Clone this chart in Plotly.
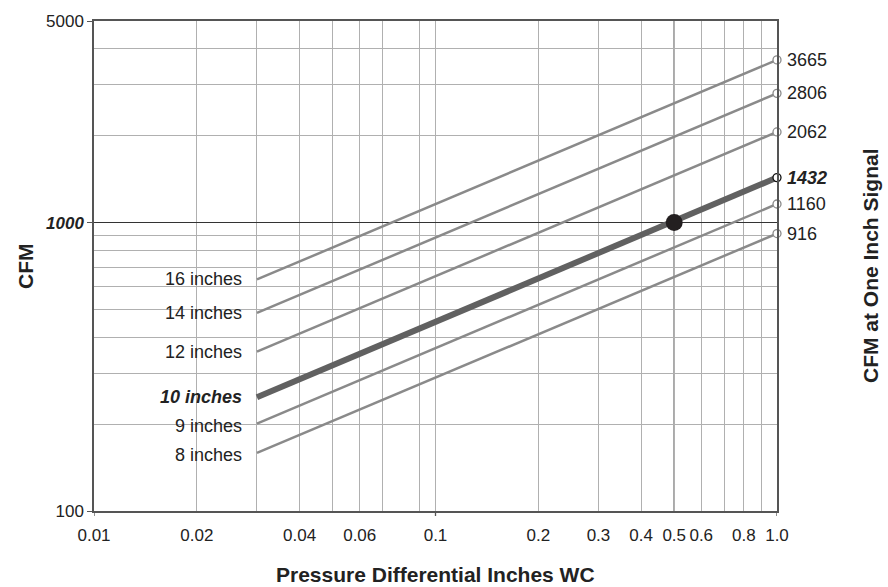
import numpy as np
import plotly.graph_objects as go

# ---- data ----
duct_sizes = ["16 inches", "14 inches", "12 inches", "10 inches", "9 inches", "8 inches"]
cfm_at_one_inch = [3665, 2806, 2062, 1432, 1160, 916]      # CFM at 1.0 in WC
cfm_at_start = [635, 486, 357, 248, 201, 159]               # CFM at 0.03 in WC
dp_start = 0.03
dp_end = 1.0
highlight = "10 inches"
ref_dp = 0.5
ref_cfm = 1000

x_tick_vals = [0.01, 0.02, 0.04, 0.06, 0.1, 0.2, 0.3, 0.4, 0.5, 0.6, 0.8, 1.0]
x_tick_text = ["0.01", "0.02", "0.04", "0.06", "0.1", "0.2", "0.3", "0.4", "0.5", "0.6", "0.8", "1.0"]
x_minor_vals = [0.03, 0.05, 0.07, 0.09, 0.7, 0.9]
x_decades = [0.01, 0.1, 1.0]
y_tick_vals = [100, 1000, 5000]
y_tick_text = ["100", "<b><i>1000</i></b>", "5000"]
y_minor_vals = [200, 300, 400, 500, 600, 700, 800, 900, 2000, 3000, 4000]

FONT = "Liberation Sans, Arial, Helvetica, sans-serif"
GRID = "#b0b0b0"
THIN = "#8a8a8a"
THICK = "#616161"
AXIS = "#555555"
LBL = 18
TICK = 17
TTL = 21

fig = go.Figure()

# lines
for name, v0, v1 in zip(duct_sizes, cfm_at_start, cfm_at_one_inch):
    hl = name == highlight
    fig.add_trace(go.Scatter(
        x=[dp_start, dp_end], y=[v0, v1], mode="lines",
        line=dict(color=THICK if hl else THIN, width=6 if hl else 2.5),
        showlegend=False, hoverinfo="skip"))

# end markers
fig.add_trace(go.Scatter(
    x=[dp_end] * len(cfm_at_one_inch), y=cfm_at_one_inch, mode="markers",
    marker=dict(symbol="circle", size=8, color="white",
                line=dict(width=1.3, color=["#111111" if n == highlight else "#8a8a8a" for n in duct_sizes])),
    cliponaxis=False, showlegend=False, hoverinfo="skip"))

# reference dot
fig.add_trace(go.Scatter(
    x=[ref_dp], y=[ref_cfm], mode="markers",
    marker=dict(size=17, color="#231f20"), cliponaxis=False,
    showlegend=False, hoverinfo="skip"))

# vertical reference line at 0.5
fig.add_vline(x=ref_dp, line=dict(color="#444444", width=1.3), layer="below")

# decade tick marks below the x axis
for d in x_decades:
    fig.add_shape(type="line", xref="x", yref="paper", x0=d, x1=d,
                  ysizemode="pixel", yanchor=0, y0=0, y1=-5,
                  line=dict(color=AXIS, width=1.3))

annotations = []
# left labels
for name, v0 in zip(duct_sizes, cfm_at_start):
    hl = name == highlight
    txt = f"<b><i>{name}</i></b>" if hl else name
    annotations.append(dict(
        x=np.log10(dp_start), y=np.log10(v0), xref="x", yref="y",
        text=txt, showarrow=False, xanchor="right", yanchor="middle",
        xshift=-13, yshift=-2 if name in ("9 inches", "8 inches") else 0,
        font=dict(family=FONT, size=LBL, color="#222222")))
# right labels
for name, v1 in zip(duct_sizes, cfm_at_one_inch):
    hl = name == highlight
    txt = f"<b><i>{v1}</i></b>" if hl else str(v1)
    annotations.append(dict(
        x=np.log10(dp_end), y=np.log10(v1), xref="x", yref="y",
        text=txt, showarrow=False, xanchor="left", yanchor="middle",
        xshift=8, font=dict(family=FONT, size=LBL, color="#222222")))
# axis titles
annotations.append(dict(x=0.5, y=0, xref="paper", yref="paper", yshift=-63,
                        text="<b>Pressure Differential Inches WC</b>", showarrow=False,
                        xanchor="center", yanchor="middle",
                        font=dict(family=FONT, size=TTL, color="#222222")))
annotations.append(dict(x=0, y=0.5, xref="paper", yref="paper", xshift=-69,
                        text="<b>CFM</b>", showarrow=False, textangle=-90,
                        xanchor="center", yanchor="middle",
                        font=dict(family=FONT, size=TTL, color="#222222")))
annotations.append(dict(x=1, y=0.5, xref="paper", yref="paper", xshift=93,
                        text="<b>CFM at One Inch Signal</b>", showarrow=False, textangle=-90,
                        xanchor="center", yanchor="middle",
                        font=dict(family=FONT, size=TTL, color="#222222")))

fig.update_layout(
    width=888, height=587,
    margin=dict(l=94, r=111, t=15, b=76),
    paper_bgcolor="white", plot_bgcolor="white",
    font=dict(family=FONT, size=TICK, color="#222222"),
    annotations=annotations,
    xaxis=dict(
        type="log", range=[np.log10(0.01), np.log10(1.0)],
        tickmode="array", tickvals=x_tick_vals, ticktext=x_tick_text,
        ticks="outside", ticklen=8, tickcolor="rgba(0,0,0,0)",
        showgrid=True, gridcolor=GRID, gridwidth=1.2,
        minor=dict(tickmode="array", tickvals=x_minor_vals, showgrid=True,
                   gridcolor=GRID, gridwidth=1.2, ticks=""),
        showline=True, linecolor=AXIS, linewidth=1.5, mirror=True,
        zeroline=False, tickfont=dict(family=FONT, size=TICK, color="#222222")),
    yaxis=dict(
        type="log", range=[np.log10(100), np.log10(5000)],
        tickmode="array", tickvals=y_tick_vals, ticktext=y_tick_text,
        ticks="outside", ticklen=5, tickcolor=AXIS, tickwidth=1.3,
        showgrid=True, gridcolor="#333333", gridwidth=1.3,
        minor=dict(tickmode="array", tickvals=y_minor_vals, showgrid=True,
                   gridcolor=GRID, gridwidth=1.2, ticks=""),
        showline=True, linecolor=AXIS, linewidth=1.5, mirror=True,
        zeroline=False, tickfont=dict(family=FONT, size=TICK, color="#222222")),
)

fig.write_html("out.html", config={"displayModeBar": False},
               post_script="document.body.style.margin='0px';document.body.style.overflow='hidden';")
